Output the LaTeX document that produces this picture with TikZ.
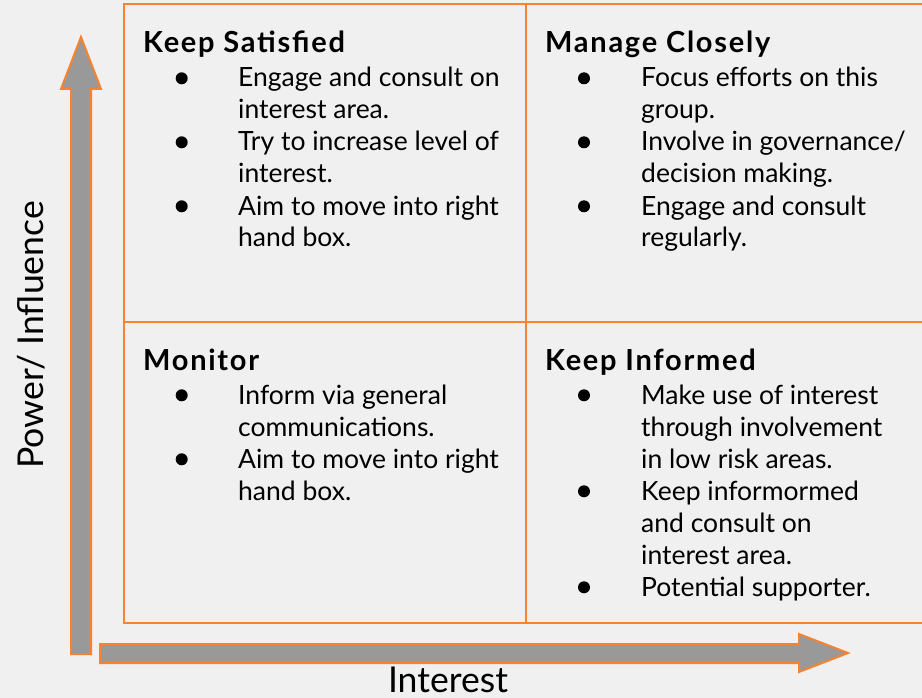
\documentclass[tikz,border=0pt]{standalone}
\usepackage{fontspec}
\setmainfont{Lato}
\newfontfamily\headfont{Lato}[LetterSpace=6]
\definecolor{pagebg}{RGB}{240,240,240}
\definecolor{accent}{RGB}{246,130,50}
\definecolor{shaftgray}{RGB}{153,153,153}

\begin{document}
\begin{tikzpicture}[x=1pt,y=-1pt,
  heading/.style={anchor=base west, inner sep=0pt, font=\headfont\fontsize{29}{32}\selectfont\bfseries},
  line/.style={anchor=base west, inner sep=0pt, font=\fontsize{26.5}{32}\selectfont},
  dot/.style={fill=black, draw=none, circle, minimum size=12pt, inner sep=0pt},
  gridline/.style={draw=accent, line width=2pt},
  blockarrow/.style={fill=shaftgray, draw=accent, line width=2pt, line join=miter},
  axislabel/.style={inner sep=0pt, anchor=base, font=\fontsize{35.6}{40}\selectfont}]

% page
\fill[pagebg] (0,0) rectangle (922,698);
\useasboundingbox (0,0) rectangle (922,698);

% quadrant grid (open to the right edge)
\begin{scope}
  \clip (0,0) rectangle (922,698);
  \draw[gridline] (124,4) rectangle (940,623);
  \draw[gridline] (526,4) -- (526,623);
  \draw[gridline] (124,322) -- (940,322);
\end{scope}

% axes as block arrows
\draw[blockarrow] (71,654) -- (71,89) -- (61,89) -- (81,37) -- (101,89) -- (91,89) -- (91,654) -- cycle;
\draw[blockarrow] (100,644) -- (799,644) -- (799,634) -- (848,653) -- (799,672) -- (799,663) -- (100,663) -- cycle;

\node[axislabel, rotate=90] (ylab) at (43,335) {Power/ Influence};
\node[axislabel] (xlab) at (448,692) {Interest};

% Keep Satisfied
\node[heading] (ks) at (143,53) {Keep Satisfied};
\node[dot] (ks1) at (181.7,78.3) {};
\node[line] (ks1a) at (238,87) {Engage and consult on};
\node[line] (ks1b) at (238,119) {interest area.};
\node[dot] (ks2) at (181.7,142.3) {};
\node[line] (ks2a) at (238,151) {Try to increase level of};
\node[line] (ks2b) at (238,183) {interest.};
\node[dot] (ks3) at (181.7,206.3) {};
\node[line] (ks3a) at (238,215) {Aim to move into right};
\node[line] (ks3b) at (238,247) {hand box.};

% Manage Closely
\node[heading] (mc) at (545,53) {Manage Closely};
\node[dot] (mc1) at (584,78.3) {};
\node[line] (mc1a) at (641,87) {Focus efforts on this};
\node[line] (mc1b) at (641,119) {group.};
\node[dot] (mc2) at (584,142.3) {};
\node[line] (mc2a) at (641,151) {Involve in governance/};
\node[line] (mc2b) at (641,183) {decision making.};
\node[dot] (mc3) at (584,206.3) {};
\node[line] (mc3a) at (641,215) {Engage and consult};
\node[line] (mc3b) at (641,247) {regularly.};

% Monitor
\node[heading] (mo) at (143,370) {Monitor};
\node[dot] (mo1) at (181.7,395.3) {};
\node[line] (mo1a) at (238,404) {Inform via general};
\node[line] (mo1b) at (238,436) {communications.};
\node[dot] (mo2) at (181.7,459.3) {};
\node[line] (mo2a) at (238,468) {Aim to move into right};
\node[line] (mo2b) at (238,500) {hand box.};

% Keep Informed
\node[heading] (ki) at (545,370) {Keep Informed};
\node[dot] (ki1) at (584,395.3) {};
\node[line] (ki1a) at (641,404) {Make use of interest};
\node[line] (ki1b) at (641,436) {through involvement};
\node[line] (ki1c) at (641,468) {in low risk areas.};
\node[dot] (ki2) at (584,491.3) {};
\node[line] (ki2a) at (641,500) {Keep informormed};
\node[line] (ki2b) at (641,532) {and consult on};
\node[line] (ki2c) at (641,564) {interest area.};
\node[dot] (ki3) at (584,587.3) {};
\node[line] (ki3a) at (641,596) {Potential supporter.};
\end{tikzpicture}
\end{document}
